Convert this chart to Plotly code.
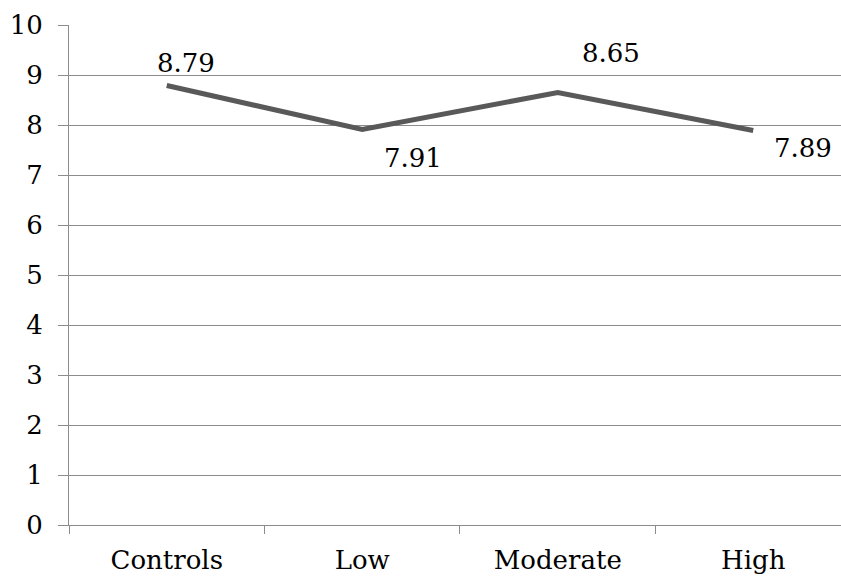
import plotly.graph_objects as go

categories = ["Controls", "Low", "Moderate", "High"]
values = [8.79, 7.91, 8.65, 7.89]
value_labels = ["8.79", "7.91", "8.65", "7.89"]
y_ticks = list(range(0, 11))

# label offsets (pixels) relative to each point
label_shift_x = [19, 51, 53, 50]
label_shift_y = [23, -28, 40, -17]

FONT = "DejaVu Serif"
FS = 26
GRID = "#8c8c8c"

fig = go.Figure()
fig.add_trace(go.Scatter(
    x=categories, y=values, mode="lines",
    line=dict(color="#595959", width=5),
    hoverinfo="skip", showlegend=False,
))

for c, v, t, dx, dy in zip(categories, values, value_labels, label_shift_x, label_shift_y):
    fig.add_annotation(x=c, y=v, text=t, showarrow=False,
                       xshift=dx, yshift=dy,
                       font=dict(family=FONT, size=FS, color="black"))

fig.update_layout(
    width=841, height=577,
    margin=dict(l=69, r=0, t=25, b=52),
    paper_bgcolor="white", plot_bgcolor="white",
    font=dict(family=FONT, size=FS, color="black"),
    showlegend=False,
)
fig.update_xaxes(
    type="category", categoryorder="array", categoryarray=categories,
    range=[-0.5, 3.449], tickson="boundaries",
    ticks="outside", ticklen=8, tickcolor=GRID, tickwidth=1,
    showgrid=False, showline=True, linecolor=GRID, linewidth=1,
    tickfont=dict(family=FONT, size=FS, color="black"),
    zeroline=False, ticklabelstandoff=12,
)
fig.update_yaxes(
    range=[0, 10], tickvals=y_ticks, ticktext=[str(v) for v in y_ticks],
    ticks="outside", ticklen=10, tickcolor=GRID, tickwidth=1,
    showgrid=True, gridcolor=GRID, gridwidth=1,
    showline=True, linecolor=GRID, linewidth=1,
    zeroline=False, ticklabelstandoff=10,
    tickfont=dict(family=FONT, size=FS, color="black"),
)

fig.write_html("out.html")
